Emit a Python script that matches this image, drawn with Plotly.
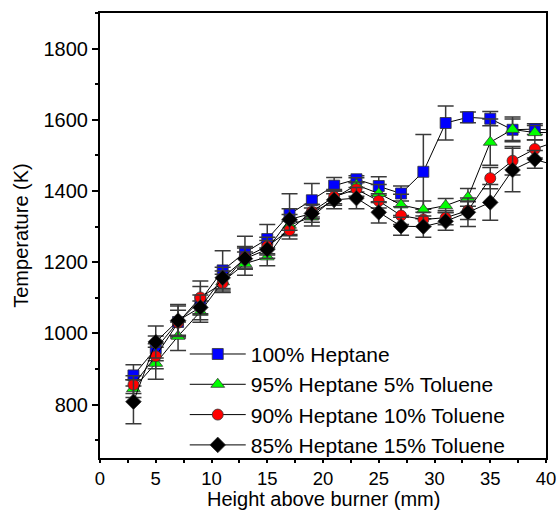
import plotly.graph_objects as go

height_mm = [3, 5, 7, 9, 11, 13, 15, 17, 19, 21, 23, 25, 27, 29, 31, 33, 35, 37, 39, 41]

heptane100 = [882, 958, 1032, 1092, 1177, 1227, 1265, 1335, 1374, 1415, 1433, 1414, 1393, 1454, 1591, 1607, 1603, 1572, 1574, 1570]
heptane100_err = [30, 35, 45, 40, 55, 46, 41, 57, 47, 23, 10, 26, 21, 105, 48, 15, 20, 30, 15, 15]

tol5 = [845, 916, 992, 1061, 1145, 1196, 1215, 1304, 1327, 1380, 1417, 1393, 1361, 1347, 1359, 1382, 1537, 1573, 1564, 1565]
tol5_err = [25, 45, 40, 30, 30, 33, 25, 30, 25, 20, 20, 25, 30, 25, 20, 25, 65, 35, 20, 20]

tol10 = [856, 936, 1030, 1101, 1141, 1214, 1245, 1290, 1342, 1384, 1405, 1372, 1331, 1320, 1325, 1345, 1436, 1485, 1518, 1540]
tol10_err = [25, 35, 35, 46, 25, 30, 25, 25, 20, 20, 20, 20, 25, 20, 20, 25, 30, 40, 25, 25]

tol15 = [808, 976, 1036, 1073, 1156, 1210, 1236, 1320, 1337, 1375, 1380, 1340, 1301, 1300, 1315, 1340, 1368, 1459, 1489, 1470]
tol15_err = [62, 45, 45, 35, 30, 30, 25, 30, 25, 25, 30, 30, 25, 30, 25, 40, 50, 61, 25, 25]

names = ["100% Heptane", "95% Heptane 5% Toluene", "90% Heptane 10% Toluene", "85% Heptane 15% Toluene"]
series = [heptane100, tol5, tol10, tol15]
errors = [heptane100_err, tol5_err, tol10_err, tol15_err]
symbols = ["square", "triangle-up", "circle", "diamond"]
colors = ["#0000ff", "#00ff00", "#ff0000", "#000000"]
sizes = [11, 12, 11, 12]

x_title = "Height above burner (mm)"
y_title = "Temperature (K)"

FONT = "Liberation Sans, Arial, sans-serif"

fig = go.Figure()
for i in range(4):
    fig.add_trace(go.Scatter(
        x=height_mm, y=series[i], name=names[i], mode="lines+markers",
        legendgroup=f"g{i}",
        line=dict(color="black", width=1),
        marker=dict(symbol=symbols[i], size=sizes[i], color=colors[i],
                    line=dict(color="#333333", width=0.8)),
        error_y=dict(type="data", array=errors[i], visible=True,
                     color="#3a3a3a", thickness=1.5, width=8),
    ))

fig.add_annotation(text=x_title, xref="paper", yref="paper", x=0.5, y=-0.092,
                   xanchor="center", yanchor="middle", showarrow=False,
                   font=dict(size=20, family=FONT, color="black"))

fig.update_layout(
    width=560, height=510,
    margin=dict(l=100, r=14, t=13, b=52),
    paper_bgcolor="white", plot_bgcolor="white",
    font=dict(family=FONT, size=20, color="black"),
    showlegend=True,
    legend=dict(x=0.19, y=0.279, xanchor="left", yanchor="top",
                bgcolor="rgba(0,0,0,0)", borderwidth=0,
                font=dict(size=21, family=FONT),
                itemwidth=56, traceorder="grouped", tracegroupgap=0,
                itemsizing="trace"),
    xaxis=dict(range=[0, 40], tickmode="linear", tick0=0, dtick=5,
               automargin=False,
               showline=True, linecolor="black", linewidth=2, mirror=True,
               ticks="outside", ticklen=3, tickwidth=2, tickcolor="black",
               minor=dict(dtick=2.5, ticks="outside", ticklen=3, tickwidth=2, tickcolor="black"),
               showgrid=False, zeroline=False,
               tickfont=dict(size=18.5)),
    yaxis=dict(range=[650, 1900], tickmode="array", tickvals=[800, 1000, 1200, 1400, 1600, 1800],
               automargin=False,
               showline=True, linecolor="black", linewidth=2, mirror=True,
               ticks="outside", ticklen=6, tickwidth=2, tickcolor="black",
               minor=dict(tickvals=[700, 900, 1100, 1300, 1500, 1700, 1900], ticks="outside", ticklen=3, tickwidth=2, tickcolor="black"),
               showgrid=False, zeroline=False,
               tickfont=dict(size=20),
               title=dict(text=y_title, font=dict(size=20), standoff=10)),
)

fig.write_html("out.html")
